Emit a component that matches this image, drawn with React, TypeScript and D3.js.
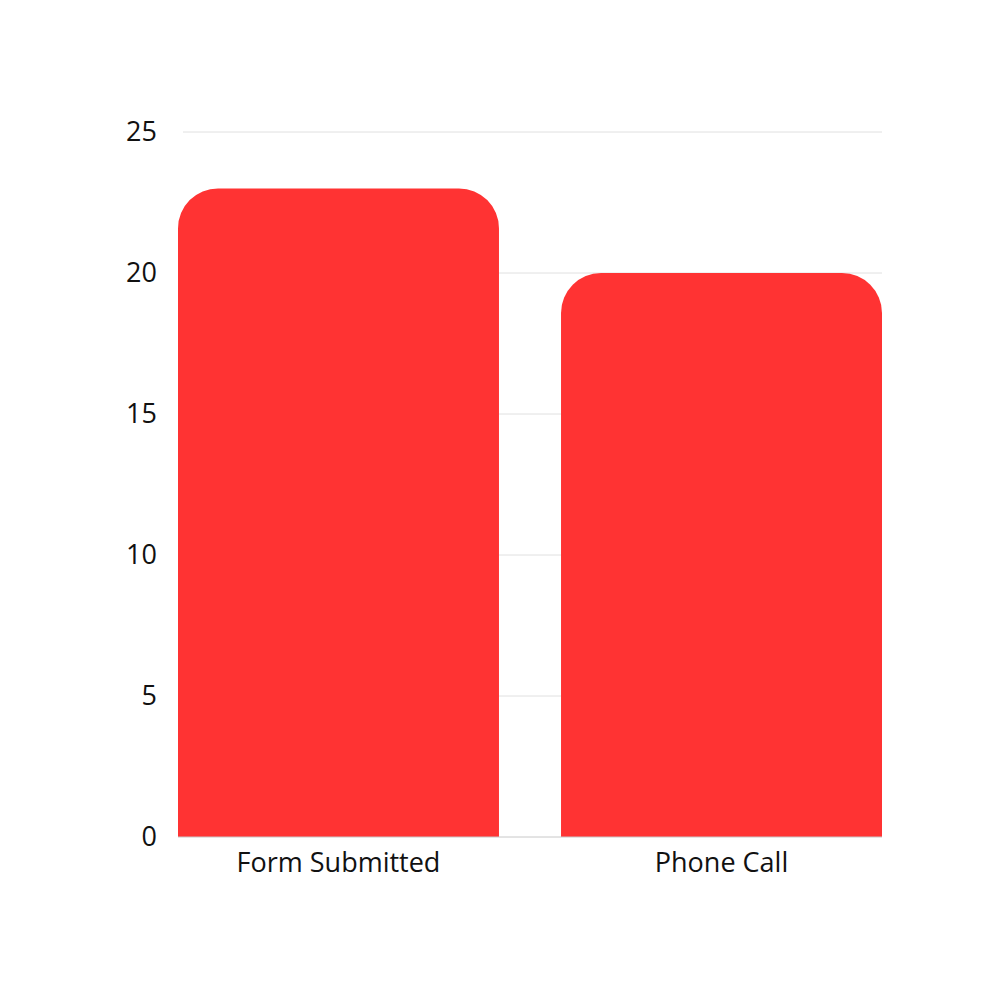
import React, { useEffect, useRef } from 'react';
import * as d3 from 'd3';

const categories = ['Form Submitted', 'Phone Call'];
const values = [23, 20];
const yTicks = [0, 5, 10, 15, 20, 25];

export default function App() {
  const svgRef = useRef<SVGSVGElement>(null);

  useEffect(() => {
    if (!svgRef.current) return;
    const svg = d3.select(svgRef.current);
    svg.selectAll('*').remove();

    const width = 1000;
    const height = 1000;
    const margin = { top: 132, right: 118, bottom: 163, left: 178 };
    const innerWidth = width - margin.left - margin.right;
    const innerHeight = height - margin.top - margin.bottom;
    const font = "'Open Sans', sans-serif";

    svg.append('rect').attr('width', width).attr('height', height).attr('fill', '#fff');

    const x = d3.scaleBand<string>()
      .domain(categories)
      .range([0, innerWidth])
      .paddingInner(0.162)
      .paddingOuter(0);

    const y = d3.scaleLinear().domain([0, 25]).range([innerHeight, 0]);

    const g = svg.append('g').attr('transform', `translate(${margin.left},${margin.top})`);

    // gridlines
    g.selectAll('line.grid')
      .data(yTicks.filter(t => t > 0))
      .enter()
      .append('line')
      .attr('class', 'grid')
      .attr('x1', 5)
      .attr('x2', innerWidth)
      .attr('y1', d => y(d))
      .attr('y2', d => y(d))
      .attr('stroke', '#e0e0e0')
      .attr('stroke-width', 1);

    // tick labels
    g.selectAll('text.ytick')
      .data(yTicks)
      .enter()
      .append('text')
      .attr('class', 'ytick')
      .attr('x', -21)
      .attr('y', d => y(d))
      .attr('dy', '0.35em')
      .attr('text-anchor', 'end')
      .attr('font-family', font)
      .attr('font-size', 27)
      .attr('fill', '#111')
      .text(d => d);

    const r = 40;
    g.selectAll('path.bar')
      .data(values)
      .enter()
      .append('path')
      .attr('class', 'bar')
      .attr('d', (d, i) => {
        const x0 = x(categories[i]) as number;
        const w = x.bandwidth();
        const top = y(d);
        const bottom = y(0);
        return `M${x0},${bottom}V${top + r}A${r},${r} 0 0 1 ${x0 + r},${top}H${x0 + w - r}A${r},${r} 0 0 1 ${x0 + w},${top + r}V${bottom}Z`;
      })
      .attr('fill', '#ff3333');

    // baseline
    g.append('line')
      .attr('x1', 0)
      .attr('x2', innerWidth)
      .attr('y1', y(0))
      .attr('y2', y(0))
      .attr('stroke', '#c8c8c8')
      .attr('stroke-width', 1);

    // category labels
    g.selectAll('text.xlabel')
      .data(categories)
      .enter()
      .append('text')
      .attr('class', 'xlabel')
      .attr('x', d => (x(d) as number) + x.bandwidth() / 2)
      .attr('y', innerHeight + 35)
      .attr('text-anchor', 'middle')
      .attr('font-family', font)
      .attr('font-size', 27)
      .attr('fill', '#111')
      .text(d => d);
  }, []);

  return (
    <svg
      ref={svgRef}
      width={1000}
      height={1000}
      style={{ position: 'absolute', left: 0, top: 0, display: 'block' }}
    />
  );
}
